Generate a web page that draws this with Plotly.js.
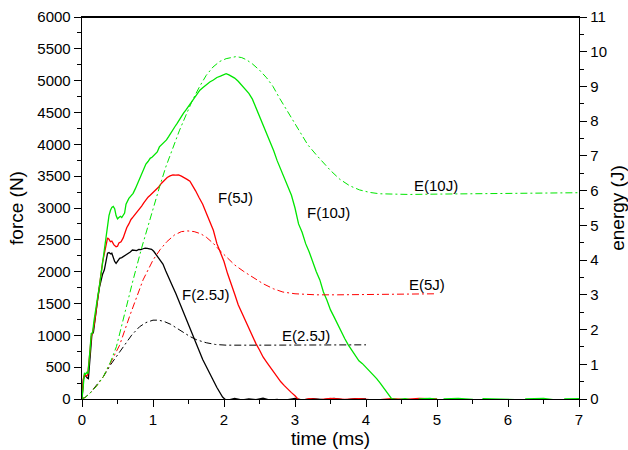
<!DOCTYPE html>
<html>
<head>
<meta charset="utf-8">
<script src="https://cdn.plot.ly/plotly-3.0.1.min.js"></script>
<style>html,body{margin:0;padding:0;background:#fff;}#chart{width:628px;height:450px;}</style>
</head>
<body>
<div id="chart"></div>
<script>
// ---- Force F(10J) ----
const tF10 = [0,0.02,0.035,0.05,0.07,0.085,0.10,0.115,0.13,0.15,0.165,0.18,0.20,0.22,0.245,0.27,0.29,0.315,0.34,0.36,0.38,0.40,0.42,0.44,0.46,0.48,0.50,0.52,0.54,0.56,0.58,0.60,0.62,0.64,0.66,0.69,0.72,0.75,0.78,0.81,0.84,0.87,0.90,0.93,0.96,0.99,1.02,1.06,1.09,1.13,1.16,1.19,1.22,1.25,1.28,1.31,1.34,1.37,1.40,1.43,1.47,1.50,1.53,1.56,1.60,1.63,1.66,1.70,1.75,1.80,1.85,1.90,1.95,2.00,2.03,2.07,2.10,2.15,2.20,2.25,2.30,2.35,2.40,2.45,2.50,2.55,2.60,2.65,2.70,2.75,2.80,2.85,2.90,2.95,3.00,3.05,3.10,3.15,3.20,3.25,3.30,3.35,3.40,3.45,3.50,3.55,3.60,3.65,3.70,3.75,3.80,3.85,3.90,3.95,4.00,4.05,4.10,4.15,4.20,4.25,4.30,4.36,4.45,4.55,4.65,4.70,4.75,4.90,5.00,5.05,5.10,5.30,5.50,5.60,5.65,5.90,6.10,6.20,6.25,6.50,6.70,6.75,6.80,7.00];
const vF10 = [0,330,410,390,420,400,560,800,1030,1040,1200,1330,1460,1600,1770,1980,2190,2400,2610,2760,2880,2960,3010,3025,2990,2880,2830,2850,2870,2850,2880,2920,3060,3110,3150,3190,3230,3300,3380,3450,3550,3620,3690,3730,3780,3800,3830,3880,3960,4000,4040,4070,4120,4180,4230,4280,4330,4390,4430,4490,4550,4600,4650,4700,4760,4810,4850,4890,4940,4980,5010,5050,5070,5100,5110,5090,5075,5040,4990,4930,4870,4800,4710,4580,4420,4300,4180,4040,3900,3740,3600,3450,3320,3200,3000,2750,2620,2440,2310,2140,2000,1870,1680,1550,1400,1290,1170,1060,950,850,760,680,600,555,500,440,380,320,250,175,100,5,-10,5,-15,-60,0,10,-5,-70,0,10,-5,-60,5,0,-10,-60,0,10,-20,-60,0,5];
// ---- Force F(5J) ----
const tF5 = [0,0.02,0.035,0.05,0.065,0.08,0.10,0.115,0.13,0.15,0.175,0.20,0.22,0.245,0.27,0.29,0.315,0.34,0.36,0.38,0.40,0.42,0.45,0.48,0.50,0.52,0.55,0.58,0.60,0.63,0.66,0.69,0.72,0.75,0.78,0.81,0.84,0.87,0.90,0.93,0.96,1.00,1.04,1.08,1.12,1.16,1.20,1.24,1.28,1.32,1.36,1.40,1.44,1.48,1.52,1.56,1.60,1.65,1.70,1.75,1.80,1.85,1.90,1.95,2.00,2.05,2.10,2.15,2.20,2.25,2.30,2.35,2.40,2.45,2.50,2.55,2.60,2.65,2.70,2.75,2.80,2.85,2.90,2.95,3.00,3.04,3.10,3.20,3.35,3.50,3.70,3.90,4.05,4.10,4.15,4.20,4.35,4.55,4.75,5.00];
const vF5 = [0,320,390,370,360,380,560,780,980,1050,1190,1420,1610,1800,1980,2150,2290,2430,2530,2510,2470,2480,2420,2390,2400,2450,2470,2530,2600,2690,2750,2820,2860,2900,2940,2975,3030,3080,3130,3170,3200,3240,3290,3330,3390,3440,3480,3505,3520,3515,3520,3500,3480,3450,3420,3350,3270,3160,3060,2920,2780,2650,2440,2300,2160,1970,1820,1650,1480,1360,1220,1100,1000,870,770,660,580,500,410,330,270,210,150,100,50,0,-20,5,-10,10,-5,5,-10,-60,-75,-10,5,-5,10,0];
// ---- Force F(2.5J) ----
const tF25 = [0,0.02,0.04,0.056,0.075,0.09,0.10,0.12,0.14,0.16,0.18,0.20,0.22,0.245,0.27,0.29,0.315,0.34,0.36,0.38,0.40,0.42,0.44,0.46,0.48,0.50,0.53,0.56,0.59,0.62,0.65,0.68,0.71,0.74,0.77,0.80,0.83,0.86,0.89,0.92,0.95,0.98,1.01,1.04,1.07,1.10,1.14,1.18,1.22,1.25,1.28,1.32,1.36,1.40,1.44,1.48,1.52,1.56,1.60,1.65,1.70,1.75,1.80,1.85,1.90,1.94,1.98,2.01,2.05,2.15,2.25,2.35,2.45,2.55,2.65,2.75,2.82,2.86,2.90,3.00,3.10,3.25,3.40,3.55,3.70,3.85,4.00];
const vF25 = [0,310,380,350,330,320,450,780,1020,1040,1250,1450,1560,1750,1870,1960,2030,2180,2290,2300,2280,2290,2220,2160,2130,2170,2210,2220,2240,2260,2290,2310,2340,2340,2330,2350,2345,2360,2370,2365,2360,2350,2320,2270,2230,2180,2120,2010,1900,1830,1760,1660,1550,1450,1340,1220,1110,990,880,760,620,510,390,290,180,100,30,0,-20,10,-15,0,-10,15,-20,-5,-40,-70,-10,10,-15,5,-10,10,-15,5,0];
// ---- Energy E(10J) ----
const tE10 = [0,0.05,0.10,0.20,0.30,0.40,0.485,0.60,0.72,0.84,0.953,1.094,1.18,1.28,1.37,1.47,1.56,1.657,1.75,1.845,1.94,2.03,2.10,2.17,2.25,2.315,2.40,2.50,2.60,2.69,2.78,2.88,2.97,3.07,3.18,3.30,3.40,3.50,3.63,3.77,3.91,4.05,4.19,4.40,4.61,5.0,5.5,6.0,6.5,7.0];
const vE10 = [0,0.05,0.14,0.36,0.64,1.06,1.51,2.47,3.43,4.35,5.16,6.12,6.68,7.24,7.72,8.2,8.62,9.0,9.32,9.56,9.72,9.8,9.84,9.86,9.83,9.77,9.65,9.47,9.25,9.0,8.67,8.33,8.0,7.66,7.32,7.03,6.8,6.58,6.33,6.14,6.02,5.95,5.91,5.89,5.89,5.9,5.91,5.92,5.93,5.94];
// ---- Energy E(5J) ----
const tE5 = [0,0.05,0.10,0.20,0.30,0.40,0.53,0.67,0.86,1.0,1.1,1.19,1.3,1.40,1.49,1.58,1.67,1.75,1.85,1.94,2.03,2.15,2.28,2.41,2.55,2.7,2.83,3.0,3.3,3.6,4.0,4.5,5.0];
const vE5 = [0,0.05,0.14,0.36,0.64,1.02,1.55,2.38,3.43,4.0,4.3,4.52,4.72,4.82,4.84,4.82,4.76,4.66,4.48,4.28,4.1,3.86,3.67,3.5,3.32,3.17,3.08,3.03,3.0,3.0,3.01,3.02,3.03];
// ---- Energy E(2.5J) ----
const tE25 = [0,0.05,0.11,0.20,0.30,0.40,0.577,0.70,0.81,0.9,1.0,1.08,1.16,1.25,1.35,1.45,1.52,1.62,1.75,1.88,2.03,2.5,3.0,3.5,4.0];
const vE25 = [0,0.06,0.16,0.38,0.64,0.98,1.51,1.84,2.08,2.2,2.27,2.27,2.23,2.15,2.02,1.88,1.8,1.7,1.62,1.57,1.55,1.55,1.56,1.56,1.56];
// ---- Labels ----
const labelText = ['F(5J)','F(10J)','F(2.5J)','E(2.5J)','E(5J)','E(10J)'];
const labelT = [2.158,3.475,1.745,3.16,4.862,4.98];
const labelF = [3168,2932,1635,990,1792,3348];

const GREEN = '#00e600', RED = '#ff0000', BLACK = '#000000';
const DD = '7px,3px,2px,3px';
const FONT = 'Liberation Sans, Arial, Helvetica, sans-serif';

const traces = [
  {x:tE25, y:vE25, yaxis:'y2', mode:'lines', line:{color:BLACK, width:1, dash:DD}},
  {x:tE5, y:vE5, yaxis:'y2', mode:'lines', line:{color:RED, width:1, dash:DD}},
  {x:tE10, y:vE10, yaxis:'y2', mode:'lines', line:{color:GREEN, width:1, dash:DD}},
  {x:tF25, y:vF25, mode:'lines', line:{color:BLACK, width:1.3}},
  {x:tF5, y:vF5, mode:'lines', line:{color:RED, width:1.3}},
  {x:tF10, y:vF10, mode:'lines', line:{color:GREEN, width:1.3}}
];

const axisCommon = {
  showline:true, linecolor:'#000', linewidth:1.3, ticks:'outside', ticklen:7, tickwidth:1, tickcolor:'#000',
  showgrid:false, zeroline:false, tickfont:{family:FONT, size:15, color:'#000'}
};

const layout = {
  width:628, height:450, margin:{l:82, r:49, t:17, b:51},
  paper_bgcolor:'#fff', plot_bgcolor:'#fff', showlegend:false,
  font:{family:FONT, color:'#000'},
  xaxis: Object.assign({}, axisCommon, {range:[0,7], dtick:1, tick0:0, mirror:true,
    minor:{dtick:0.5, ticks:'outside', ticklen:4, tickcolor:'#000', showgrid:false},
    title:{text:'time (ms)', font:{family:FONT, size:19}, standoff:4}}),
  yaxis: Object.assign({}, axisCommon, {range:[0,6000], dtick:500, tick0:0, mirror:true,
    minor:{dtick:250, ticks:'outside', ticklen:4, tickcolor:'#000', showgrid:false},
    title:{text:'force (N)', font:{family:FONT, size:19}, standoff:8}}),
  yaxis2: Object.assign({}, axisCommon, {range:[0,11], dtick:1, tick0:0, overlaying:'y', side:'right',
    minor:{dtick:0.5, ticks:'outside', ticklen:4, tickcolor:'#000', showgrid:false},
    title:{text:'energy (J)', font:{family:FONT, size:19}, standoff:6}}),
  shapes: [{type:'line', xref:'paper', yref:'paper', x0:0, x1:1, y0:1, y1:1, layer:'above', line:{color:'#000', width:2}}],
  annotations: labelText.map((s,i)=>({x:labelT[i], y:labelF[i], xref:'x', yref:'y', text:s, showarrow:false,
    font:{family:FONT, size:15, color:'#000'}}))
};

Plotly.newPlot('chart', traces, layout, {staticPlot:true, displayModeBar:false});
</script>
</body>
</html>
